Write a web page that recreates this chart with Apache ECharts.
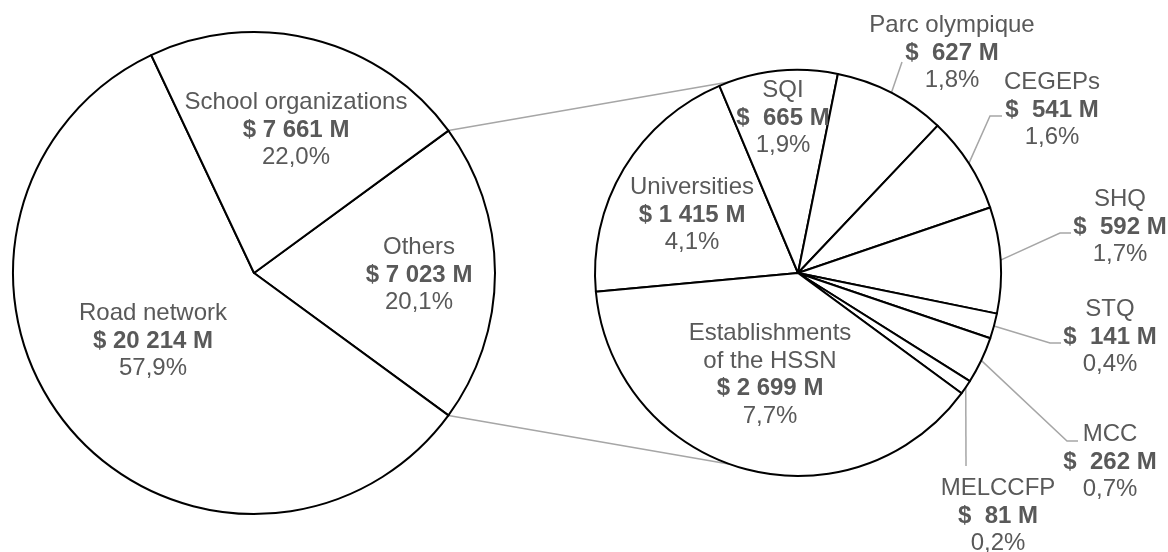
<!DOCTYPE html>
<html>
<head>
<meta charset="utf-8">
<script src="https://cdn.jsdelivr.net/npm/echarts/dist/echarts.min.js"></script>
<style>
html,body{margin:0;padding:0;background:#fff;}
#c{width:1168px;height:552px;}
</style>
</head>
<body>
<div id="c"></div>
<script>
// ---- Data ----
// Main pie, in clockwise drawing order
const mainNames  = ['Others', 'Road network', 'School organizations'];
const mainValues = [7023, 20214, 7661];
const mainPct    = ['20,1%', '57,9%', '22,0%'];

// Breakdown of "Others", in clockwise drawing order
const subNames  = ['Universities', 'SQI', 'Parc olympique', 'CEGEPs', 'SHQ', 'STQ', 'MCC', 'MELCCFP', 'Establishments of the HSSN'];
const subValues = [1415, 665, 627, 541, 592, 141, 262, 81, 2699];
const subPct    = ['4,1%', '1,9%', '1,8%', '1,6%', '1,7%', '0,4%', '0,7%', '0,2%', '7,7%'];

// ---- Layout / style ----
const TEXT = '#595959';
const GREY = '#a6a6a6';
const FONT = "'Liberation Sans', Arial, Helvetica, sans-serif";
const LAYOUT = {
  main: { cx: 254, cy: 273, r: 241 },
  sub:  { cx: 798, cy: 273, r: 203, start: 185.3 }
};
// label block centres
const mainLabelPos = { 'Others': [419, 275], 'Road network': [153, 341], 'School organizations': [296, 130] };
const subLabelPos = {
  'Universities': [692, 215],
  'SQI': [783, 118],
  'Establishments of the HSSN': [770, 375],
  'Parc olympique': [952, 53],
  'CEGEPs': [1052, 110],
  'SHQ': [1120, 227],
  'STQ': [1110, 337],
  'MCC': [1110, 462],
  'MELCCFP': [998, 516]
};
// leader line knee / end for outside labels
const subLeader = {
  'Parc olympique': [[902, 62], [902, 62]],
  'CEGEPs': [[990, 116], [1002, 116]],
  'SHQ': [[1060, 233], [1071, 233]],
  'STQ': [[1050, 343], [1061, 343]],
  'MCC': [[1067, 441], [1078, 441]],
  'MELCCFP': [[966, 466], [966, 466]]
};

function money(v) {
  const s = String(v).replace(/\B(?=(\d{3})+(?!\d))/g, ' ');
  return (v >= 1000 ? '$ ' : '$  ') + s + ' M';
}
function fmt(name, value, pct) {
  const nm = name.replace(' of the', '\nof the').split('\n').map(s => '{n|' + s + '}').join('\n');
  return nm + '\n{v|' + money(value) + '}\n{p|' + pct + '}';
}
const rich = {
  n: { fontFamily: FONT, fontSize: 24, color: TEXT, lineHeight: 27.5 },
  v: { fontFamily: FONT, fontSize: 24, color: TEXT, lineHeight: 27.5, fontWeight: 'bold' },
  p: { fontFamily: FONT, fontSize: 24, color: TEXT, lineHeight: 27.5 }
};

const mainTotal = mainValues.reduce((a, b) => a + b, 0);
const subTotal = subValues.reduce((a, b) => a + b, 0);
const mainStart = 360 * mainValues[0] / mainTotal / 2;

// edge point at slice mid-angle (second pie)
function subEdge(i) {
  let cum = 0;
  for (let k = 0; k < i; k++) cum += subValues[k];
  const mid = (LAYOUT.sub.start - 360 * (cum + subValues[i] / 2) / subTotal) * Math.PI / 180;
  return [LAYOUT.sub.cx + LAYOUT.sub.r * Math.cos(mid), LAYOUT.sub.cy - LAYOUT.sub.r * Math.sin(mid)];
}

const itemStyle = { color: '#ffffff', borderColor: '#000000', borderWidth: 2 };

const mainData = mainNames.map((n, i) => ({ name: n, value: mainValues[i] }));
const subData = subNames.map((n, i) => {
  const d = { name: n, value: subValues[i] };
  if (subLeader[n]) {
    d.label = { position: 'outside' };
    d.labelLine = { show: true };
  }
  return d;
});

// connector lines from split of main pie to the second pie
const a = mainStart * Math.PI / 180;
const M = LAYOUT.main, S = LAYOUT.sub;
const p1 = [M.cx + M.r * Math.cos(a), M.cy - M.r * Math.sin(a)];
const p2 = [M.cx + M.r * Math.cos(a), M.cy + M.r * Math.sin(a)];

const chart = echarts.init(document.getElementById('c'), null, { renderer: 'canvas' });
chart.setOption({
  animation: false,
  backgroundColor: '#ffffff',
  graphic: [
    { type: 'line', z: 0, shape: { x1: p1[0], y1: p1[1], x2: S.cx, y2: S.cy - S.r }, style: { stroke: GREY, lineWidth: 1.5 } },
    { type: 'line', z: 0, shape: { x1: p2[0], y1: p2[1], x2: S.cx, y2: S.cy + S.r }, style: { stroke: GREY, lineWidth: 1.5 } }
  ],
  series: [
    {
      type: 'pie', z: 2,
      center: [M.cx, M.cy], radius: [0, M.r],
      startAngle: mainStart, clockwise: true,
      avoidLabelOverlap: false, silent: true,
      itemStyle: itemStyle,
      emphasis: { disabled: true },
      label: { show: true, position: 'inside', rich: rich, formatter: p => fmt(p.name, p.value, mainPct[p.dataIndex]) },
      labelLine: { show: false },
      labelLayout: p => {
        const pos = mainLabelPos[mainNames[p.dataIndex]];
        return { x: pos[0], y: pos[1], align: 'center', verticalAlign: 'middle' };
      },
      data: mainData
    },
    {
      type: 'pie', z: 2,
      center: [S.cx, S.cy], radius: [0, S.r],
      startAngle: S.start, clockwise: true,
      avoidLabelOverlap: false, silent: true,
      itemStyle: itemStyle,
      emphasis: { disabled: true },
      label: { show: true, position: 'inside', rich: rich, formatter: p => fmt(p.name, p.value, subPct[p.dataIndex]) },
      labelLine: { show: false, lineStyle: { color: GREY, width: 1.5 }, length: 10, length2: 10 },
      labelLayout: p => {
        const name = subNames[p.dataIndex];
        const pos = subLabelPos[name];
        const out = { x: pos[0], y: pos[1], align: 'center', verticalAlign: 'middle' };
        if (subLeader[name]) {
          out.labelLinePoints = [subEdge(p.dataIndex), subLeader[name][0], subLeader[name][1]];
        }
        return out;
      },
      data: subData
    }
  ]
});
</script>
</body>
</html>
